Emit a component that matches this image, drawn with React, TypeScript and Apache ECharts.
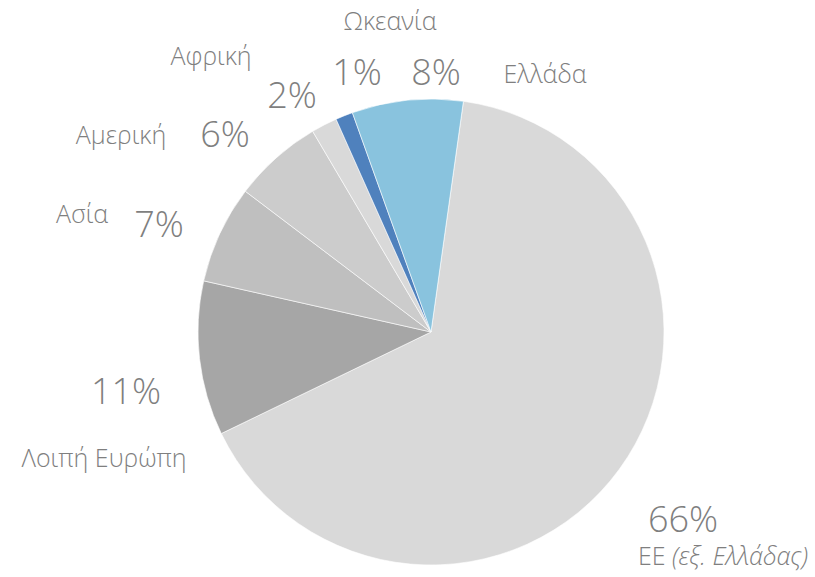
import React, { useEffect, useRef } from "react";
import * as echarts from "echarts";

const categories = ["ΕΕ (εξ. Ελλάδας)", "Λοιπή Ευρώπη", "Ασία", "Αμερική", "Αφρική", "Ωκεανία", "Ελλάδα"];
const shares = [65.6, 10.7, 6.8, 6.2, 1.8, 1.2, 7.7];
const sliceColors = ["#D9D9D9", "#A6A6A6", "#BFBFBF", "#CCCCCC", "#D9D9D9", "#4F81BD", "#89C3DE"];

// label anchor points (layout only)
const pctPos: [number, number][] = [
  [683, 518], [126, 390], [159, 223], [225, 133], [292, 94], [357, 71], [436, 71],
];
const namePos: [number, number][] = [
  [727, 555], [104, 457], [82, 213], [121, 134], [211, 55], [390, 20], [545, 73],
];

const FONT = "'Open Sans', 'Noto Sans', sans-serif";
const TEXT_COLOR = "#7F7F7F";

export default function App() {
  const ref = useRef<HTMLDivElement>(null);
  useEffect(() => {
    if (!ref.current) return;
    const chart = echarts.init(ref.current, undefined, { renderer: "svg" });
    const total = shares.reduce((a, b) => a + b, 0);
    const data = categories.map((name, i) => ({
      name,
      value: shares[i],
      itemStyle: { color: sliceColors[i] },
    }));
    const base = {
      type: "pie",
      center: [431, 332],
      radius: 233,
      startAngle: 82,
      clockwise: true,
      labelLine: { show: false },
      emphasis: { disabled: true },
    };
    chart.setOption({
      animation: false,
      series: [
        {
          ...base,
          data,
          itemStyle: { borderColor: "#ffffff", borderWidth: 0.6 },
          label: {
            show: true,
            position: "outside",
            overflow: "none",
            formatter: (p: any) => Math.round((p.value / total) * 100) + "%",
            color: TEXT_COLOR,
            fontFamily: FONT,
            fontWeight: 300,
            fontSize: 36,
          },
          labelLayout: (p: any) => ({
            x: pctPos[p.dataIndex][0],
            y: pctPos[p.dataIndex][1],
            align: "center",
            verticalAlign: "middle",
          }),
        },
        {
          ...base,
          silent: true,
          data: categories.map((name, i) => ({ name, value: shares[i] })),
          itemStyle: { color: "rgba(0,0,0,0)", borderWidth: 0 },
          label: {
            show: true,
            position: "outside",
            overflow: "none",
            formatter: (p: any) => {
              const k = p.name.indexOf("(");
              if (k > 0) return p.name.slice(0, k) + "{i|" + p.name.slice(k) + "}";
              return p.name;
            },
            color: TEXT_COLOR,
            fontFamily: FONT,
            fontWeight: 300,
            fontSize: 25,
            lineHeight: 26,
            rich: {
              i: {
                fontStyle: "italic",
                color: TEXT_COLOR,
                fontFamily: FONT,
                fontWeight: 300,
                fontSize: 25,
                lineHeight: 26,
              },
            },
          },
          labelLayout: (p: any) =>
            p.dataIndex === 0
              ? { x: 808, y: namePos[0][1], align: "right", verticalAlign: "middle" }
              : {
                  x: namePos[p.dataIndex][0],
                  y: namePos[p.dataIndex][1],
                  align: "center",
                  verticalAlign: "middle",
                },
        },
      ],
    });
    return () => chart.dispose();
  }, []);
  return (
    <div
      ref={ref}
      style={{ position: "fixed", left: 0, top: 0, width: 815, height: 577, background: "#fff" }}
    />
  );
}
